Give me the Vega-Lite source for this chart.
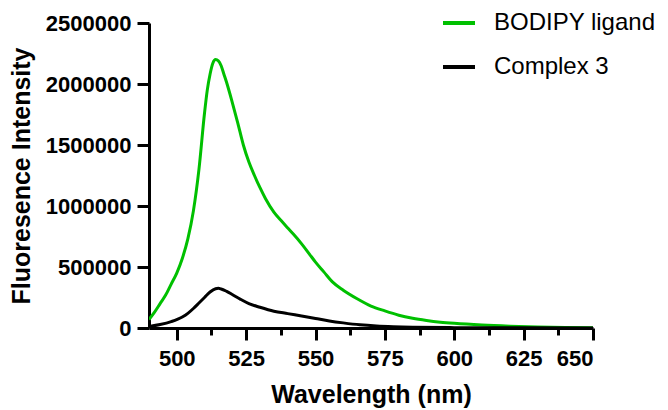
{
  "$schema": "https://vega.github.io/schema/vega-lite/v6.json",
  "width": 444,
  "height": 305,
  "autosize": {"type": "none"},
  "padding": {"left": 149, "top": 23, "right": 75, "bottom": 82},
  "background": "white",
  "config": {
    "view": {"stroke": null},
    "font": "Liberation Sans",
    "axis": {
      "domainColor": "black", "domainWidth": 3, "tickColor": "black", "tickWidth": 3,
      "grid": false, "labelFont": "Liberation Sans", "labelFontWeight": "bold", "labelFontSize": 22,
      "labelColor": "black", "titleFont": "Liberation Sans", "titleFontWeight": "bold",
      "titleFontSize": 25, "titleColor": "black"
    }
  },
  "data": {"values": [
    {"wl": 490, "v": 70000, "s": "BODIPY ligand"},
    {"wl": 492, "v": 130000, "s": "BODIPY ligand"},
    {"wl": 494, "v": 200000, "s": "BODIPY ligand"},
    {"wl": 496, "v": 270000, "s": "BODIPY ligand"},
    {"wl": 498, "v": 360000, "s": "BODIPY ligand"},
    {"wl": 500, "v": 450000, "s": "BODIPY ligand"},
    {"wl": 502, "v": 570000, "s": "BODIPY ligand"},
    {"wl": 504, "v": 730000, "s": "BODIPY ligand"},
    {"wl": 506, "v": 960000, "s": "BODIPY ligand"},
    {"wl": 508, "v": 1300000, "s": "BODIPY ligand"},
    {"wl": 510, "v": 1760000, "s": "BODIPY ligand"},
    {"wl": 511, "v": 1950000, "s": "BODIPY ligand"},
    {"wl": 512, "v": 2080000, "s": "BODIPY ligand"},
    {"wl": 513, "v": 2170000, "s": "BODIPY ligand"},
    {"wl": 514, "v": 2200000, "s": "BODIPY ligand"},
    {"wl": 515, "v": 2190000, "s": "BODIPY ligand"},
    {"wl": 516, "v": 2150000, "s": "BODIPY ligand"},
    {"wl": 517, "v": 2080000, "s": "BODIPY ligand"},
    {"wl": 518, "v": 2010000, "s": "BODIPY ligand"},
    {"wl": 520, "v": 1850000, "s": "BODIPY ligand"},
    {"wl": 522, "v": 1680000, "s": "BODIPY ligand"},
    {"wl": 524, "v": 1500000, "s": "BODIPY ligand"},
    {"wl": 526, "v": 1360000, "s": "BODIPY ligand"},
    {"wl": 528, "v": 1250000, "s": "BODIPY ligand"},
    {"wl": 530, "v": 1150000, "s": "BODIPY ligand"},
    {"wl": 532, "v": 1060000, "s": "BODIPY ligand"},
    {"wl": 535, "v": 950000, "s": "BODIPY ligand"},
    {"wl": 538, "v": 870000, "s": "BODIPY ligand"},
    {"wl": 540, "v": 820000, "s": "BODIPY ligand"},
    {"wl": 542, "v": 770000, "s": "BODIPY ligand"},
    {"wl": 545, "v": 690000, "s": "BODIPY ligand"},
    {"wl": 548, "v": 600000, "s": "BODIPY ligand"},
    {"wl": 550, "v": 540000, "s": "BODIPY ligand"},
    {"wl": 553, "v": 460000, "s": "BODIPY ligand"},
    {"wl": 556, "v": 380000, "s": "BODIPY ligand"},
    {"wl": 560, "v": 310000, "s": "BODIPY ligand"},
    {"wl": 565, "v": 240000, "s": "BODIPY ligand"},
    {"wl": 570, "v": 180000, "s": "BODIPY ligand"},
    {"wl": 575, "v": 140000, "s": "BODIPY ligand"},
    {"wl": 580, "v": 105000, "s": "BODIPY ligand"},
    {"wl": 585, "v": 80000, "s": "BODIPY ligand"},
    {"wl": 590, "v": 62000, "s": "BODIPY ligand"},
    {"wl": 595, "v": 48000, "s": "BODIPY ligand"},
    {"wl": 600, "v": 38000, "s": "BODIPY ligand"},
    {"wl": 610, "v": 24000, "s": "BODIPY ligand"},
    {"wl": 620, "v": 15000, "s": "BODIPY ligand"},
    {"wl": 630, "v": 9000, "s": "BODIPY ligand"},
    {"wl": 640, "v": 5000, "s": "BODIPY ligand"},
    {"wl": 650, "v": 3000, "s": "BODIPY ligand"},
    {"wl": 490, "v": 12000, "s": "Complex 3"},
    {"wl": 494, "v": 28000, "s": "Complex 3"},
    {"wl": 498, "v": 52000, "s": "Complex 3"},
    {"wl": 502, "v": 90000, "s": "Complex 3"},
    {"wl": 504, "v": 120000, "s": "Complex 3"},
    {"wl": 506, "v": 160000, "s": "Complex 3"},
    {"wl": 508, "v": 205000, "s": "Complex 3"},
    {"wl": 510, "v": 250000, "s": "Complex 3"},
    {"wl": 512, "v": 295000, "s": "Complex 3"},
    {"wl": 514, "v": 322000, "s": "Complex 3"},
    {"wl": 515, "v": 325000, "s": "Complex 3"},
    {"wl": 516, "v": 320000, "s": "Complex 3"},
    {"wl": 518, "v": 300000, "s": "Complex 3"},
    {"wl": 520, "v": 275000, "s": "Complex 3"},
    {"wl": 523, "v": 235000, "s": "Complex 3"},
    {"wl": 526, "v": 200000, "s": "Complex 3"},
    {"wl": 530, "v": 170000, "s": "Complex 3"},
    {"wl": 535, "v": 138000, "s": "Complex 3"},
    {"wl": 540, "v": 118000, "s": "Complex 3"},
    {"wl": 545, "v": 98000, "s": "Complex 3"},
    {"wl": 550, "v": 78000, "s": "Complex 3"},
    {"wl": 555, "v": 58000, "s": "Complex 3"},
    {"wl": 560, "v": 42000, "s": "Complex 3"},
    {"wl": 566, "v": 26000, "s": "Complex 3"},
    {"wl": 572, "v": 16000, "s": "Complex 3"},
    {"wl": 578, "v": 10000, "s": "Complex 3"},
    {"wl": 585, "v": 6000, "s": "Complex 3"},
    {"wl": 600, "v": 3000, "s": "Complex 3"},
    {"wl": 625, "v": 1500, "s": "Complex 3"},
    {"wl": 650, "v": 1000, "s": "Complex 3"}
  ]},
  "mark": {"type": "line", "strokeWidth": 3, "interpolate": "monotone", "clip": true},
  "encoding": {
    "x": {
      "field": "wl", "type": "quantitative",
      "scale": {"domain": [490, 650], "nice": false, "zero": false},
      "axis": {
        "title": "Wavelength (nm)",
        "values": [500, 512.5, 525, 537.5, 550, 562.5, 575, 587.5, 600, 612.5, 625, 637.5, 650],
        "labelExpr": "datum.value % 25 === 0 ? datum.value : ''",
        "tickSize": {"condition": {"test": "datum.value % 25 !== 0", "value": 7}, "value": 12},
        "labelPadding": 8,
        "titlePadding": 13
      }
    },
    "y": {
      "field": "v", "type": "quantitative",
      "scale": {"domain": [0, 2500000], "nice": false},
      "axis": {
        "title": "Fluoresence Intensity",
        "values": [0, 500000, 1000000, 1500000, 2000000, 2500000],
        "format": "d",
        "tickSize": 12,
        "labelPadding": 6,
        "titlePadding": 11
      }
    },
    "color": {
      "field": "s", "type": "nominal", "sort": ["BODIPY ligand", "Complex 3"],
      "scale": {"domain": ["BODIPY ligand", "Complex 3"], "range": ["#00c000", "#000000"]},
      "legend": {
        "title": null, "orient": "none", "legendX": 292, "legendY": -18,
        "symbolType": "stroke", "symbolSize": 1024, "symbolStrokeWidth": 4,
        "labelFont": "Liberation Sans", "labelFontSize": 24, "labelColor": "black",
        "labelOffset": 17, "rowPadding": 14, "labelLimit": 400
      }
    }
  }
}
